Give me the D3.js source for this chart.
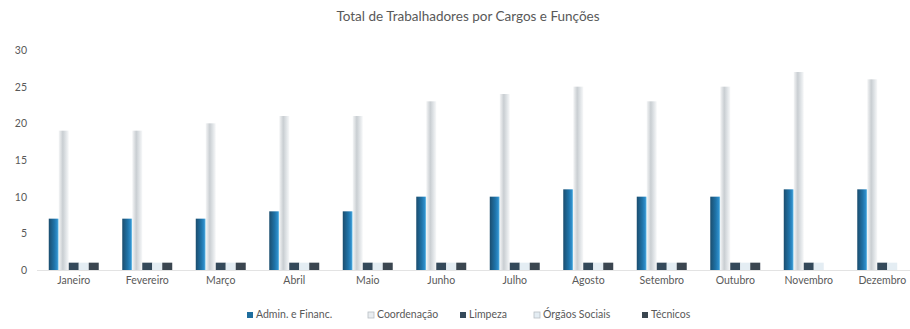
<!DOCTYPE html>
<html>
<head>
<meta charset="utf-8">
<script src="https://cdn.jsdelivr.net/npm/d3@7"></script>
<style>
  html, body { margin: 0; padding: 0; background: #ffffff; }
  svg { display: block; font-family: Lato, "Open Sans", sans-serif; }
</style>
</head>
<body>
<svg id="chart" width="910" height="329"></svg>
<script>
// Monthly staff counts by role
const months = ["Janeiro", "Fevereiro", "Março", "Abril", "Maio", "Junho",
                "Julho", "Agosto", "Setembro", "Outubro", "Novembro", "Dezembro"];
const seriesNames = ["Admin. e Financ.", "Coordenação", "Limpeza", "Órgãos Sociais", "Técnicos"];
const adminFinanc   = [7, 7, 7, 8, 8, 10, 10, 11, 10, 10, 11, 11];
const coordenacao   = [19, 19, 20, 21, 21, 23, 24, 25, 23, 25, 27, 26];
const limpeza       = [1, 1, 1, 1, 1, 1, 1, 1, 1, 1, 1, 1];
const orgaosSociais = [1, 1, 1, 1, 1, 1, 1, 1, 1, 1, 1, 1];
const tecnicos      = [1, 1, 1, 1, 1, 1, 1, 1, 1, 1, 0, 0];
const yTicks = [0, 5, 10, 15, 20, 25, 30];

const seriesValues = [adminFinanc, coordenacao, limpeza, orgaosSociais, tecnicos];
const seriesFills = ["url(#gAdmin)", "url(#gCoord)", "#34495a", "#e4edf3", "#3b4650"];
const legendFills = ["#1f6e9e", "#e9edf0", "#34495a", "#e4edf3", "#3b4650"];
const legendStroke = [null, "#b8bec4", null, "#b8bec4", null];

const svg = d3.select("#chart");
const defs = svg.append("defs");

const gA = defs.append("linearGradient").attr("id", "gAdmin")
  .attr("x1", "0").attr("x2", "1").attr("y1", "0").attr("y2", "0");
gA.append("stop").attr("offset", "0%").attr("stop-color", "#1b4d6e");
gA.append("stop").attr("offset", "55%").attr("stop-color", "#1f73a8");
gA.append("stop").attr("offset", "85%").attr("stop-color", "#2f8fcc");
gA.append("stop").attr("offset", "100%").attr("stop-color", "#8fd6f2");

const gC = defs.append("linearGradient").attr("id", "gCoord")
  .attr("x1", "0").attr("x2", "1").attr("y1", "0").attr("y2", "0");
gC.append("stop").attr("offset", "0%").attr("stop-color", "#f4f5f6");
gC.append("stop").attr("offset", "40%").attr("stop-color", "#c9ced2");
gC.append("stop").attr("offset", "70%").attr("stop-color", "#dfe3e6");
gC.append("stop").attr("offset", "100%").attr("stop-color", "#f7f8f9");

const plot = { left: 37, right: 919, top: 50, bottom: 270 };

const x0 = d3.scaleBand().domain(months)
  .range([plot.left, plot.right]).paddingInner(0.32).paddingOuter(0.16);
const x1 = d3.scaleBand().domain(seriesNames).range([0, x0.bandwidth()]);
const y = d3.scaleLinear().domain([0, 30]).range([plot.bottom, plot.top]);

// Title
svg.append("text")
  .attr("x", 468).attr("y", 21)
  .attr("text-anchor", "middle")
  .attr("font-size", 13.5)
  .attr("fill", "#595959")
  .text("Total de Trabalhadores por Cargos e Funções");

// Y axis (labels only)
const yAxis = d3.axisLeft(y).tickValues(yTicks).tickSize(0).tickPadding(0);
const yG = svg.append("g").attr("transform", `translate(27,0)`).call(yAxis);
yG.select(".domain").remove();
yG.selectAll("text").attr("font-size", 10.5).attr("fill", "#595959")
  .attr("font-family", "Lato, 'Open Sans', sans-serif");

// Baseline
svg.append("line")
  .attr("x1", plot.left).attr("x2", plot.right)
  .attr("y1", y(0) + 0.5).attr("y2", y(0) + 0.5)
  .attr("stroke", "#e3e3e3").attr("stroke-width", 1);

// Bars
const groups = svg.append("g").selectAll("g")
  .data(months)
  .join("g")
  .attr("transform", m => `translate(${x0(m)},0)`);

groups.selectAll("rect")
  .data((m, i) => seriesNames.map((s, k) => ({ s, k, v: seriesValues[k][i] })))
  .join("rect")
  .attr("x", d => x1(d.s))
  .attr("width", x1.bandwidth())
  .attr("y", d => y(d.v))
  .attr("height", d => y(0) - y(d.v))
  .attr("fill", d => seriesFills[d.k]);

// X axis labels
const xAxis = d3.axisBottom(x0).tickSize(0).tickPadding(0);
const xG = svg.append("g").attr("transform", `translate(0,${plot.bottom + 7})`).call(xAxis);
xG.select(".domain").remove();
xG.selectAll("text").attr("font-size", 10.5).attr("fill", "#595959")
  .attr("font-family", "Lato, 'Open Sans', sans-serif")
  .attr("dy", "0.71em");

// Legend
const legendX = [247, 368, 460, 534, 642];
const legend = svg.append("g").selectAll("g")
  .data(seriesNames)
  .join("g")
  .attr("transform", (d, i) => `translate(${legendX[i]},318)`);
legend.append("rect")
  .attr("x", 0).attr("y", -6).attr("width", 6).attr("height", 6)
  .attr("fill", (d, i) => legendFills[i])
  .attr("stroke", (d, i) => legendStroke[i])
  .attr("stroke-width", 0.8);
legend.append("text")
  .attr("x", 9).attr("y", 0)
  .attr("font-size", 10.5).attr("fill", "#595959")
  .text(d => d);
</script>
</body>
</html>
